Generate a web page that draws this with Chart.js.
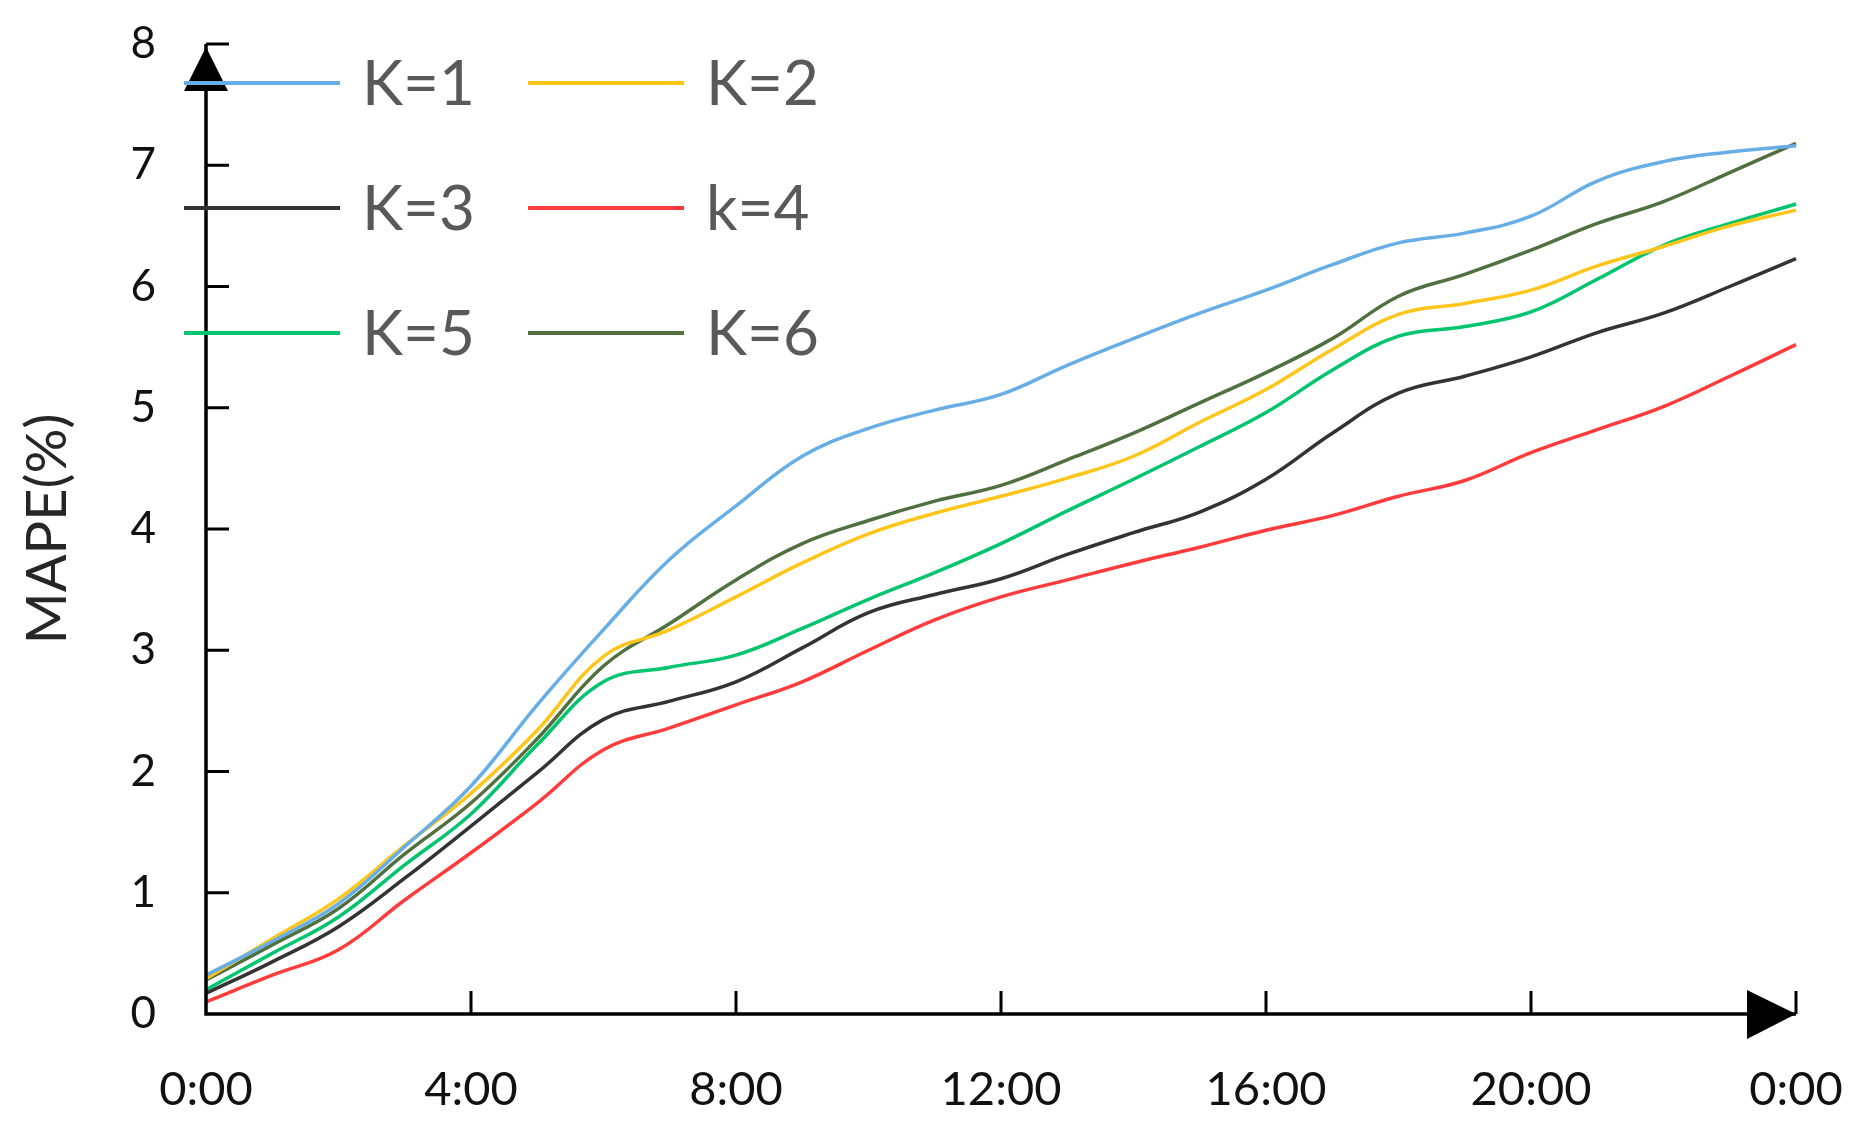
<!DOCTYPE html>
<html>
<head>
<meta charset="utf-8">
<script src="https://cdn.jsdelivr.net/npm/chart.js@4.4.1/dist/chart.umd.min.js"></script>
<style>
  html, body { margin: 0; padding: 0; background: #fff; }
  #box { width: 1865px; height: 1137px; }
</style>
</head>
<body>
<div id="box"><canvas id="mapeChart" width="1865" height="1137"></canvas></div>
<script>
// hours of the day, read every hour off the picture
const hours = [0, 1, 2, 3, 4, 5, 6, 7, 8, 9, 10, 11, 12, 13, 14, 15, 16, 17, 18, 19, 20, 21, 22, 23, 24]
const xTickLabels = ['0:00', '4:00', '8:00', '12:00', '16:00', '20:00', '0:00']
const yTickLabels = ['0', '1', '2', '3', '4', '5', '6', '7', '8']

const k1 = [0.32, 0.60, 0.91, 1.38, 1.88, 2.55, 3.17, 3.75, 4.19, 4.60, 4.83, 4.98, 5.11, 5.35, 5.57, 5.78, 5.97, 6.18, 6.36, 6.44, 6.58, 6.87, 7.03, 7.11, 7.16]
const k2 = [0.29, 0.62, 0.95, 1.39, 1.82, 2.34, 2.95, 3.17, 3.44, 3.72, 3.96, 4.13, 4.27, 4.42, 4.60, 4.88, 5.15, 5.48, 5.77, 5.86, 5.97, 6.17, 6.33, 6.50, 6.63]
const k3 = [0.17, 0.43, 0.72, 1.12, 1.55, 1.99, 2.43, 2.58, 2.74, 3.02, 3.31, 3.46, 3.59, 3.79, 3.97, 4.14, 4.41, 4.79, 5.12, 5.26, 5.42, 5.62, 5.78, 6.00, 6.23]
const k4 = [0.10, 0.32, 0.53, 0.94, 1.33, 1.74, 2.18, 2.36, 2.55, 2.74, 3.00, 3.25, 3.44, 3.58, 3.72, 3.85, 3.99, 4.11, 4.27, 4.40, 4.63, 4.82, 5.01, 5.26, 5.52]
const k5 = [0.20, 0.50, 0.80, 1.23, 1.65, 2.22, 2.74, 2.86, 2.96, 3.18, 3.42, 3.64, 3.88, 4.15, 4.41, 4.68, 4.96, 5.31, 5.59, 5.67, 5.79, 6.06, 6.34, 6.52, 6.68]
const k6 = [0.28, 0.57, 0.87, 1.32, 1.74, 2.27, 2.87, 3.22, 3.58, 3.88, 4.07, 4.23, 4.36, 4.57, 4.79, 5.04, 5.29, 5.57, 5.92, 6.10, 6.30, 6.52, 6.70, 6.94, 7.18]

const seriesNames = ['K=1', 'K=2', 'K=3', 'k=4', 'K=5', 'K=6']
const seriesValues = [k1, k2, k3, k4, k5, k6]
const seriesColors = ['#67AEE6', '#FFC51A', '#333333', '#FF3B3B', '#00C46E', '#50703F']

const FONT = 'Lato, "Open Sans", sans-serif'

// black axes with inner ticks and arrow heads, placed through the scales
const axisArrows = {
    id: 'axisArrows',
    afterDatasetsDraw(chart) {
        const { ctx, scales: { x, y } } = chart
        const x0 = x.getPixelForValue(hours[0])
        const x1 = x.getPixelForValue(hours[hours.length - 1])
        const y0 = y.getPixelForValue(0)
        const y1 = y.getPixelForValue(yTickLabels.length - 1)
        ctx.save()
        ctx.strokeStyle = '#000'
        ctx.fillStyle = '#000'
        ctx.lineWidth = 3.5
        ctx.beginPath()
        ctx.moveTo(x0, y1)
        ctx.lineTo(x0, y0)
        ctx.lineTo(x1, y0)
        ctx.stroke()

        ctx.lineWidth = 3
        ctx.beginPath()
        yTickLabels.forEach((t, i) => {
            if (i === 0) return
            const p = y.getPixelForValue(i)
            ctx.moveTo(x0, p)
            ctx.lineTo(x0 + 23, p)
        })
        x.ticks.forEach(t => {
            if (t.value === 0) return
            const p = x.getPixelForValue(t.value)
            ctx.moveTo(p, y0)
            ctx.lineTo(p, y0 - 23)
        })
        ctx.stroke()

        // arrow up
        ctx.beginPath()
        ctx.moveTo(x0, y1 + 3)
        ctx.lineTo(x0 - 22, y1 + 47)
        ctx.lineTo(x0 + 22, y1 + 47)
        ctx.closePath()
        ctx.fill()
        // arrow right
        ctx.beginPath()
        ctx.moveTo(x1, y0)
        ctx.lineTo(x1 - 49, y0 - 24)
        ctx.lineTo(x1 - 49, y0 + 25)
        ctx.closePath()
        ctx.fill()
        ctx.restore()
    }
}

// two column legend in the upper left corner
const cornerLegend = {
    id: 'cornerLegend',
    afterDraw(chart) {
        const { ctx } = chart
        ctx.save()
        ctx.font = '62px ' + FONT
        ctx.textBaseline = 'middle'
        ctx.textAlign = 'left'
        chart.data.datasets.forEach((ds, i) => {
            const col = i % 2
            const row = Math.floor(i / 2)
            const lx = 184 + col * 344
            const ly = 83 + row * 125
            ctx.strokeStyle = ds.borderColor
            ctx.lineWidth = 4
            ctx.beginPath()
            ctx.moveTo(lx, ly)
            ctx.lineTo(lx + 156, ly)
            ctx.stroke()
            ctx.fillStyle = '#595959'
            ctx.fillText(ds.label, lx + 178, ly + 2)
        })
        ctx.restore()
    }
}

const noEdgePadding = scale => {
    scale.paddingTop = 0
    scale.paddingBottom = 0
    scale.paddingLeft = 0
    scale.paddingRight = 0
}

const ctx = document.getElementById('mapeChart').getContext('2d')

const chart = new Chart(ctx, {
    type: 'line',
    data: {
        datasets: seriesNames.map((name, s) => ({
            label: name,
            data: hours.map((h, i) => ({ x: h, y: seriesValues[s][i] })),
            borderColor: seriesColors[s],
            borderWidth: 3.5,
            pointRadius: 0,
            tension: 0.4,
            fill: false,
            clip: false
        }))
    },
    options: {
        responsive: false,
        animation: false,
        devicePixelRatio: 1,
        layout: { padding: { top: 44, right: 69, bottom: 0, left: 0 } },
        plugins: {
            legend: { display: false },
            tooltip: { enabled: false }
        },
        scales: {
            x: {
                type: 'linear',
                min: 0,
                max: 24,
                grid: { display: false, drawTicks: false },
                border: { display: false },
                ticks: {
                    stepSize: 4,
                    autoSkip: false,
                    maxRotation: 0,
                    padding: 48,
                    color: '#111',
                    font: { family: FONT, size: 47 },
                    callback: (v, i) => xTickLabels[i]
                },
                afterFit: scale => { scale.height = 123; noEdgePadding(scale) }
            },
            y: {
                min: 0,
                max: 8,
                grid: { display: false, drawTicks: false },
                border: { display: false },
                ticks: {
                    stepSize: 1,
                    padding: 50,
                    color: '#111',
                    font: { family: FONT, size: 44 },
                    callback: (v, i) => yTickLabels[i]
                },
                title: {
                    display: true,
                    text: 'MAPE(%)',
                    color: '#262626',
                    font: { family: FONT, size: 56 },
                    padding: { top: 14, bottom: 0 }
                },
                afterFit: scale => { scale.width = 206; noEdgePadding(scale) }
            }
        }
    },
    plugins: [axisArrows, cornerLegend]
})
</script>
</body>
</html>
